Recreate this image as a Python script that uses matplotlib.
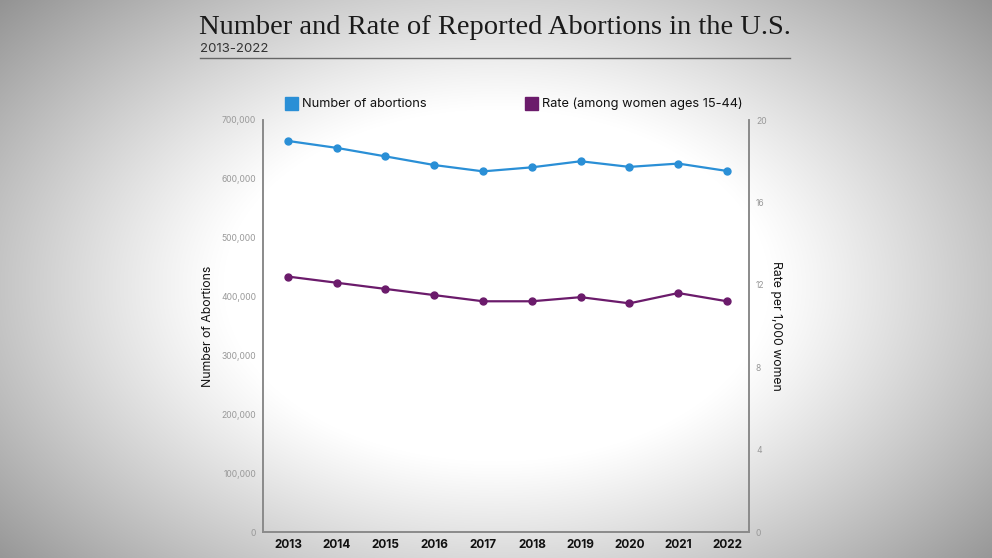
import numpy as np
import matplotlib
matplotlib.use("Agg")
from matplotlib import pyplot as plt
from matplotlib.patches import Rectangle
from matplotlib.ticker import FuncFormatter

# data
years = [2013, 2014, 2015, 2016, 2017, 2018, 2019, 2020, 2021, 2022]
abortions = [664435, 652639, 638169, 623471, 612719, 619591, 629898, 620327, 625978, 613383]
rate = [12.4, 12.1, 11.8, 11.5, 11.2, 11.2, 11.4, 11.1, 11.6, 11.2]
left_ticks = [0, 100000, 200000, 300000, 400000, 500000, 600000, 700000]
right_ticks = [0, 4, 8, 12, 16, 20]

blue = '#2a8fd6'
purple = '#6b1b6b'
sans = ['Inter', 'DejaVu Sans']

W, H = 992, 558
fig = plt.figure(figsize=(W / 100, H / 100), dpi=100)

# vignette background
bg = fig.add_axes([0, 0, 1, 1], zorder=-10)
xx, yy = np.meshgrid(np.arange(W), np.arange(H))
d = np.sqrt(((xx - 496) / 496.0) ** 2 + ((yy - 285) / 320.0) ** 2)
b = 255 - 140 * np.clip(d - 0.55, 0, None) ** 1.1
b = np.clip(b, 0, 255) / 255.0
bg.imshow(np.dstack([b, b, b]), aspect='auto', extent=[0, 1, 0, 1], origin='upper')
bg.axis('off')

def fx(px):
    return px / W

def fy(py):
    return 1 - py / H

# title block
fig.text(fx(199), fy(34), 'Number and Rate of Reported Abortions in the U.S.',
         family=['Liberation Serif'], fontsize=20.5, color='#1a1a1a', va='baseline', ha='left')
fig.text(fx(200), fy(52), '2013-2022', family=sans, fontsize=9.5, color='#333333',
         va='baseline', ha='left')
fig.add_artist(plt.Line2D([fx(200), fx(790)], [fy(58), fy(58)], color='#666666', lw=1,
                          transform=fig.transFigure))

# legend
fig.add_artist(Rectangle((fx(285), fy(110)), 13 / W, 13 / H, color=blue,
                         transform=fig.transFigure))
fig.text(fx(302), fy(104), 'Number of abortions', family=sans, fontsize=9.2,
         color='#111111', va='center', ha='left')
fig.add_artist(Rectangle((fx(525), fy(110)), 13 / W, 13 / H, color=purple,
                         transform=fig.transFigure))
fig.text(fx(542), fy(104), 'Rate (among women ages 15-44)', family=sans, fontsize=9.2,
         color='#111111', va='center', ha='left')

# main axes
ax = fig.add_axes([fx(263), fy(532), (749 - 263) / W, (532 - 120) / H])
ax.patch.set_alpha(0)
ax2 = ax.twinx()

ax.plot(years, abortions, color=blue, lw=1.6, marker='o', markersize=5, zorder=3)
ax2.plot(years, rate, color=purple, lw=1.6, marker='o', markersize=5, zorder=3)

ax.set_xlim(2012.49, 2022.45)
ax.set_ylim(0, 700000)
ax2.set_ylim(0, 20)
ax.set_xticks(years)
ax.set_xticklabels([str(y) for y in years], family=sans, fontweight='bold', fontsize=8.5,
                   color='#111111')
ax.set_yticks(left_ticks)
ax.yaxis.set_major_formatter(FuncFormatter(lambda v, p: f'{int(v):,}'))
ax2.set_yticks(right_ticks)

for t in ax.get_yticklabels():
    t.set_family(sans)
for t in ax2.get_yticklabels():
    t.set_family(sans)
ax.tick_params(axis='y', length=0, labelsize=6.2, labelcolor='#999999', pad=5)
ax2.tick_params(axis='y', length=0, labelsize=6.2, labelcolor='#999999', pad=5)
ax.tick_params(axis='x', length=0, pad=5)

for a in (ax, ax2):
    a.spines['top'].set_visible(False)
    for s in ('left', 'right', 'bottom'):
        a.spines[s].set_color('#8a8a8a')
        a.spines[s].set_linewidth(1.2)

ax.set_ylabel('Number of Abortions', family=sans, fontsize=8.8, color='#111111',
              va='center')
ax2.set_ylabel('Rate per 1,000 women', family=sans, fontsize=8.8, color='#111111',
               rotation=270, va='center')
ax.yaxis.set_label_coords((208 - 263) / 486, 0.5)
ax2.yaxis.set_label_coords((776 - 263) / 486, 0.5)

fig.savefig('out.png', dpi=100)
